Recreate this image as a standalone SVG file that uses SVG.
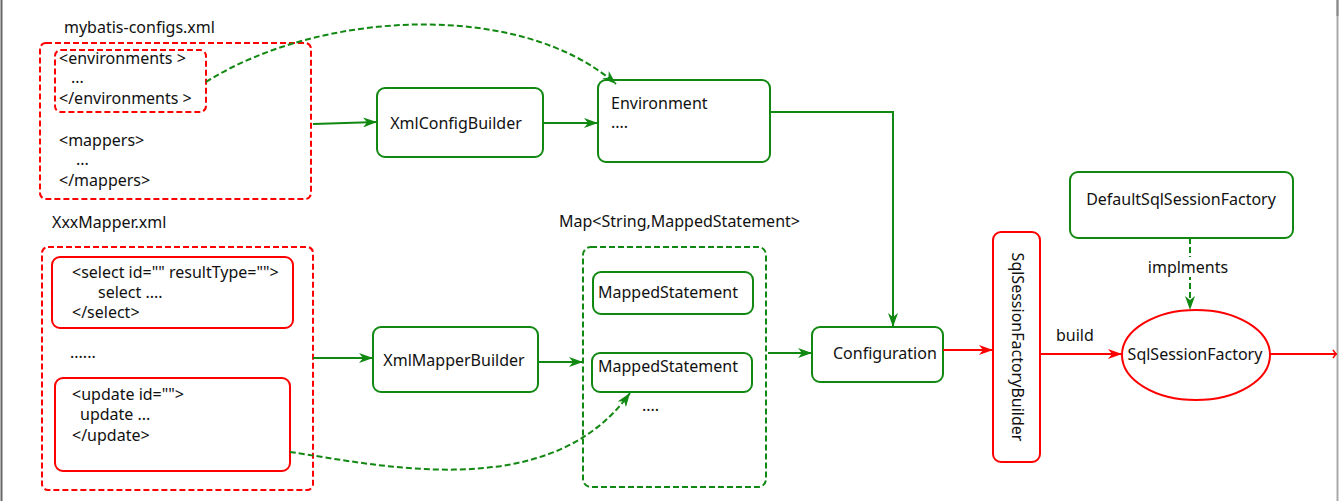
<svg xmlns="http://www.w3.org/2000/svg" width="1339" height="501" viewBox="0 0 1339 501">
<style>
text{font-family:"Noto Sans","Open Sans","Liberation Sans",sans-serif;font-size:16px;fill:#111}
.rd{fill:none;stroke:#ff0000;stroke-width:2;stroke-dasharray:6,3}
.rs{fill:#fff;stroke:#ff0000;stroke-width:2}
.gs{fill:#fff;stroke:#118811;stroke-width:2}
.gd{fill:none;stroke:#118811;stroke-width:2;stroke-dasharray:6,3}
.gl{fill:none;stroke:#118811;stroke-width:2}
.rl{fill:none;stroke:#ff0000;stroke-width:2}
.c{text-anchor:middle}
</style>
<defs>
<marker id="ag" viewBox="0 0 14 10" refX="14" refY="5" markerWidth="14" markerHeight="10" markerUnits="userSpaceOnUse" orient="auto"><path d="M0,0 L14,5 L0,10 L4,5 Z" fill="#118811"/></marker>
<marker id="ar" viewBox="0 0 14 10" refX="14" refY="5" markerWidth="14" markerHeight="10" markerUnits="userSpaceOnUse" orient="auto"><path d="M0,0 L14,5 L0,10 L4,5 Z" fill="#ff0000"/></marker>
</defs>
<rect x="0" y="0" width="1339" height="501" fill="#fff"/>
<line x1="1.5" y1="0" x2="1.5" y2="501" stroke="#666" stroke-width="2"/>
<line x1="1337.5" y1="0" x2="1337.5" y2="501" stroke="#aaa" stroke-width="2"/>
<line x1="1337.5" y1="0" x2="1337.5" y2="16" stroke="#888" stroke-width="2"/>

<g id="mybatis-configs">
<text x="64" y="33">mybatis-configs.xml</text>
<rect class="rd" x="40" y="43" width="271" height="156" rx="6"/>
<rect class="rd" x="55" y="50" width="151" height="62" rx="6"/>
<text x="59" y="64">&lt;environments &gt;</text>
<text x="71" y="83">...</text>
<text x="59" y="104">&lt;/environments &gt;</text>
<text x="59" y="146">&lt;mappers&gt;</text>
<text x="76" y="165">...</text>
<text x="59" y="186">&lt;/mappers&gt;</text>
</g>

<g id="xxxmapper">
<text x="52" y="228">XxxMapper.xml</text>
<rect class="rd" x="42" y="247" width="271" height="243" rx="6"/>
<rect class="rs" x="52" y="257" width="241" height="71" rx="8"/>
<text x="72" y="278">&lt;select id="" resultType=""&gt;</text>
<text x="98" y="298">select ....</text>
<text x="72" y="318">&lt;/select&gt;</text>
<text x="70" y="358">......</text>
<rect class="rs" x="55" y="378" width="235" height="93" rx="8"/>
<text x="72" y="400">&lt;update id=""&gt;</text>
<text x="80" y="420">update ...</text>
<text x="72" y="441">&lt;/update&gt;</text>
</g>

<g id="xmlconfigbuilder">
<rect class="gs" x="377" y="88" width="166" height="69" rx="8"/>
<text class="c" x="456" y="129">XmlConfigBuilder</text>
</g>

<g id="environment">
<rect class="gs" x="598" y="80" width="172" height="82" rx="8"/>
<text x="611" y="109">Environment</text>
<text x="611" y="128">....</text>
</g>

<g id="xmlmapperbuilder">
<rect class="gs" x="373" y="327" width="165" height="65" rx="8"/>
<text class="c" x="454" y="366">XmlMapperBuilder</text>
</g>

<g id="map">
<text x="559" y="227">Map&lt;String,MappedStatement&gt;</text>
<rect class="gd" x="583" y="247" width="183" height="240" rx="8"/>
<rect class="gs" x="593" y="272" width="160" height="42" rx="8"/>
<text x="598" y="298">MappedStatement</text>
<rect class="gs" x="592" y="353" width="160" height="39" rx="8"/>
<text x="598" y="372">MappedStatement</text>
<text x="642" y="411">....</text>
</g>

<g id="configuration">
<rect class="gs" x="812" y="327" width="131" height="55" rx="8"/>
<text x="833" y="359">Configuration</text>
</g>

<g id="sqlsessionfactorybuilder">
<rect class="rs" x="993" y="232" width="47" height="230" rx="8"/>
<text class="c" transform="translate(1017,347) rotate(90)" x="0" y="5">SqlSessionFactoryBuilder</text>
</g>

<g id="defaultsqlsessionfactory">
<rect class="gs" x="1070" y="172" width="223" height="66" rx="8"/>
<text class="c" x="1181" y="205">DefaultSqlSessionFactory</text>
</g>

<g id="sqlsessionfactory">
<ellipse class="rs" cx="1196" cy="355" rx="74" ry="45"/>
<text class="c" x="1195" y="360">SqlSessionFactory</text>
</g>

<g id="connectors">
<path class="gl" d="M313,124 L377,122" marker-end="url(#ag)"/>
<path class="gl" d="M543,123 L598,123" marker-end="url(#ag)"/>
<path class="gd" d="M206,82 C320,10 520,0 616,84" marker-end="url(#ag)"/>
<path class="gl" d="M770,112 L893,112 L893,327" marker-end="url(#ag)"/>
<path class="gl" d="M313,358 L373,358" marker-end="url(#ag)"/>
<path class="gl" d="M538,362 L583,362" marker-end="url(#ag)"/>
<path class="gd" d="M290,452 C380,465 550,505 630,393" marker-end="url(#ag)"/>
<path class="gl" d="M768,353 L812,353" marker-end="url(#ag)"/>
<path class="rl" d="M943,350 L993,350" marker-end="url(#ar)"/>
<path class="rl" d="M1040,354 L1122,354" marker-end="url(#ar)"/>
<text x="1056" y="341">build</text>
<path class="gd" d="M1190,238 L1190,310" marker-end="url(#ag)"/>
<rect x="1148" y="257" width="84" height="20" fill="#fff"/>
<text class="c" x="1188" y="273">implments</text>
<path class="rl" d="M1270,354 L1337,354"/>
<path d="M1333,350 L1336,354 L1333,358" fill="none" stroke="#ff0000" stroke-width="1.5"/>
</g>
</svg>
